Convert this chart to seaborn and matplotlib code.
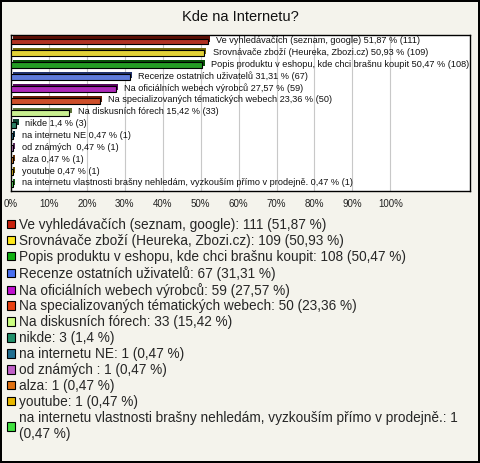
import matplotlib
matplotlib.use("Agg")
import matplotlib.pyplot as plt
import matplotlib.patheffects as pe
from matplotlib.patches import Patch
import matplotlib.colors as mcolors
import seaborn as sns
import pandas as pd

categories = [
    "Ve vyhledávačích (seznam, google)",
    "Srovnávače zboží (Heureka, Zbozi.cz)",
    "Popis produktu v eshopu, kde chci brašnu koupit",
    "Recenze ostatních uživatelů",
    "Na oficiálních webech výrobců",
    "Na specializovaných tématických webech",
    "Na diskusních fórech",
    "nikde",
    "na internetu NE",
    "od známých ",
    "alza",
    "youtube",
    "na internetu vlastnosti brašny nehledám, vyzkouším přímo v prodejně.",
]
counts = [111, 109, 108, 67, 59, 50, 33, 3, 1, 1, 1, 1, 1]
percents = [51.87, 50.93, 50.47, 31.31, 27.57, 23.36, 15.42, 1.4, 0.47, 0.47, 0.47, 0.47, 0.47]
colors = ["#c8200c", "#ffe81a", "#10b010", "#4a70f0", "#c010d0", "#e84010",
          "#ccff80", "#20906a", "#206e90", "#c060c8", "#e07010", "#e8b800", "#40e040"]
tick_values = [0, 10, 20, 30, 40, 50, 60, 70, 80, 90, 100]

BG = "#f4f3ec"
W, H = 480, 463
sns.set_theme(style="white")
plt.rcParams["font.family"] = ["Liberation Sans", "DejaVu Sans"]

fig = plt.figure(figsize=(W / 100, H / 100), dpi=100, facecolor=BG,
                 edgecolor="black", linewidth=1.5)
ax = fig.add_axes([11 / W, 1 - 191 / H, 459 / W, 156 / H])
ax.set_facecolor("white")

df = pd.DataFrame({"cat": categories, "pct": percents})
sns.barplot(data=df, x="pct", y="cat", hue="cat", palette=colors, orient="h",
            width=0.5, edgecolor="black", linewidth=0.8, legend=False, ax=ax,
            zorder=3)

for patch, c in zip(ax.patches, colors):
    rgb = mcolors.to_rgb(c)
    dark = tuple(v * 0.45 for v in rgb)
    patch.set_path_effects([
        pe.SimplePatchShadow(offset=(1.6, 1.6), shadow_rgbFace=dark, alpha=1.0),
        pe.Normal(),
    ])

def fmt(v):
    return f"{v:g}".replace(".", ",")

for i, (cat, v, n) in enumerate(zip(categories, percents, counts)):
    ax.text(v + 2.3, i - 0.08, f"{cat} {fmt(v)} % ({n})", fontsize=6.6,
            va="center", ha="left", color="#111111", zorder=5)

ax.set_xlim(0, 121)
ax.set_ylim(12.6, -0.55)
ax.set_xticks(tick_values)
ax.set_xticklabels([f"{t}%" for t in tick_values], fontsize=7, color="#222222")
ax.set_yticks([])
ax.tick_params(axis="x", length=0, pad=6)
ax.set_xlabel("")
ax.set_ylabel("")
for t in tick_values[1:]:
    ax.axvline(t, color="#c8c8c8", linewidth=0.8, zorder=1)
for s in ax.spines.values():
    s.set_visible(True)
    s.set_color("black")
    s.set_linewidth(1.0)

fig.text(0.5, 1 - 17 / H, "Kde na Internetu?", ha="center", va="center",
         fontsize=10.5, color="#111111")

handles = []
labels = []
for i, (cat, v, n, c) in enumerate(zip(categories, percents, counts, colors)):
    lab = f"{cat}: {n} ({fmt(v)} %)"
    if i == len(categories) - 1:
        lab = f"{cat}: {n}\n({fmt(v)} %)"
    handles.append(Patch(facecolor=c, edgecolor="black", linewidth=0.8))
    labels.append(lab)

fig.legend(handles, labels, loc="upper left", bbox_to_anchor=(7 / W, 1 - 218 / H),
           frameon=False, fontsize=9.8, handlelength=0.58, handleheight=0.58,
           handletextpad=0.3, labelspacing=0.14, borderpad=0, borderaxespad=0)

fig.savefig("out.png", dpi=100, facecolor=BG)
